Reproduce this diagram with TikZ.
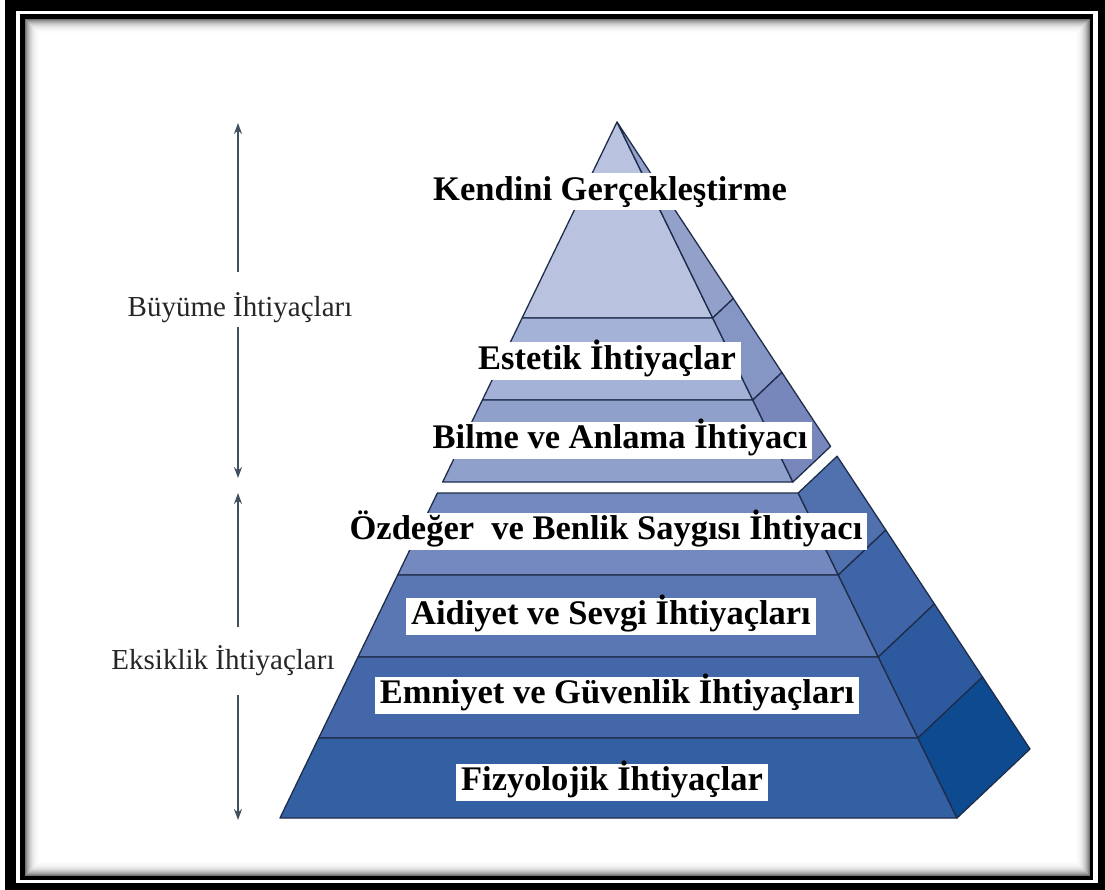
\documentclass[tikz,border=0pt]{standalone}
\usepackage{fontspec}
\setmainfont{Liberation Serif}
\usetikzlibrary{arrows.meta}
\definecolor{fa}{HTML}{B9C3DF}
\definecolor{fb}{HTML}{A4B2D7}
\definecolor{fc}{HTML}{8FA0CB}
\definecolor{fd}{HTML}{7489BF}
\definecolor{fe}{HTML}{5A76B3}
\definecolor{ff}{HTML}{4467A9}
\definecolor{fg}{HTML}{3360A2}
\definecolor{sa}{HTML}{93A0CA}
\definecolor{sb}{HTML}{8595C4}
\definecolor{sc}{HTML}{7787BC}
\definecolor{sd}{HTML}{5070AE}
\definecolor{se}{HTML}{3F64A7}
\definecolor{sf}{HTML}{2D5A9E}
\definecolor{sg}{HTML}{0E4A8F}
\definecolor{edge}{HTML}{1E2D4A}
\definecolor{arr}{HTML}{41505E}
\tikzset{
  tier/.style={draw=edge, line width=1.3pt, line join=round},
  lbl/.style={fill=white, inner xsep=5pt, inner ysep=3pt, font=\fontsize{34.5}{37}\selectfont\bfseries, text=black, text height=24pt, text depth=7pt},
  side/.style={font=\fontsize{29}{32}\selectfont, text=black!85},
  vec/.style={draw=arr, line width=1.6pt, -{Stealth[length=11pt,width=8pt]}}
}
\begin{document}
\begin{tikzpicture}[x=1pt,y=-1pt]
\useasboundingbox (0,0) rectangle (1105,890);
% frame
\fill[black] (5,0) rectangle (1105,890);
\fill[white] (16,11) rectangle (1098,883);
\fill[black] (20,14) rectangle (1093,880);
\fill[white] (25,19) rectangle (1090,876);
\foreach \i/\c in {0/55,1/45,2/37,3/30,4/24,5/19,6/15,7/11,8/8,9/6,10/4,11/3,12/2,13/1} {
  \draw[black!\c, line width=1.2pt] (25.5+\i,19.5+\i) rectangle (1089.5-\i,875.5-\i);
}
% front faces
\filldraw[tier, fill=fa] (617,122) -- (712.7,318) -- (522.1,318) -- cycle;
\filldraw[tier, fill=fb] (522.1,318) -- (712.7,318) -- (752.8,400) -- (482.4,400) -- cycle;
\filldraw[tier, fill=fc] (482.4,400) -- (752.8,400) -- (792.9,482) -- (442.7,482) -- cycle;
\filldraw[tier, fill=fd] (437.4,493) -- (798.2,493) -- (838.3,575) -- (397.7,575) -- cycle;
\filldraw[tier, fill=fe] (397.7,575) -- (838.3,575) -- (878.3,657) -- (358,657) -- cycle;
\filldraw[tier, fill=ff] (358,657) -- (878.3,657) -- (917.9,738) -- (318.7,738) -- cycle;
\filldraw[tier, fill=fg] (318.7,738) -- (917.9,738) -- (957,818) -- (280,818) -- cycle;
% side faces
\filldraw[tier, fill=sa] (617,122) -- (733.3,298.5) -- (712.7,318) -- cycle;
\filldraw[tier, fill=sb] (712.7,318) -- (733.3,298.5) -- (781.9,372.5) -- (752.8,400) -- cycle;
\filldraw[tier, fill=sc] (752.8,400) -- (781.9,372.5) -- (830.6,446.4) -- (792.9,482) -- cycle;
\filldraw[tier, fill=sd] (798.2,493) -- (837.1,456.2) -- (885.8,530.1) -- (838.3,575) -- cycle;
\filldraw[tier, fill=se] (838.3,575) -- (885.8,530.1) -- (934.4,604) -- (878.3,657) -- cycle;
\filldraw[tier, fill=sf] (878.3,657) -- (934.4,604) -- (982.5,677) -- (917.9,738) -- cycle;
\filldraw[tier, fill=sg] (917.9,738) -- (982.5,677) -- (1030,749) -- (957,818) -- cycle;
% labels
\node[lbl] (l1) at (610,192) {Kendini Gerçekleştirme};
\node[lbl] (l2) at (607,361) {Estetik İhtiyaçlar};
\node[lbl] (l3) at (620,440) {Bilme ve Anlama İhtiyacı};
\node[lbl] (l4) at (606,531) {Özdeğer\ \ ve Benlik Saygısı İhtiyacı};
\node[lbl] (l5) at (611,616) {Aidiyet ve Sevgi İhtiyaçları};
\node[lbl] (l6) at (617,695) {Emniyet ve Güvenlik İhtiyaçları};
\node[lbl] (l7) at (612,782) {Fizyolojik İhtiyaçlar};
% side labels and arrows
\node[side] (g) at (240,308) {Büyüme İhtiyaçları};
\node[side] (d) at (223,661) {Eksiklik İhtiyaçları};
\coordinate (g1) at (238,272);
\coordinate (g2) at (238,123);
\coordinate (g3) at (238,327);
\coordinate (g4) at (238,478);
\coordinate (d1) at (238,627);
\coordinate (d2) at (238,493);
\coordinate (d3) at (238,695);
\coordinate (d4) at (238,820);
\draw[vec] (g1) -- (g2);
\draw[vec] (g3) -- (g4);
\draw[vec] (d1) -- (d2);
\draw[vec] (d3) -- (d4);
\end{tikzpicture}
\end{document}
